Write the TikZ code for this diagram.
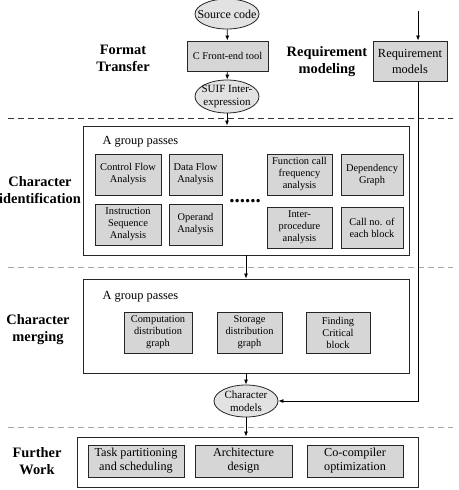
\documentclass[tikz,border=0pt]{standalone}
\usepackage{fontspec}
\setmainfont{Liberation Serif}
\usetikzlibrary{shapes.geometric,arrows.meta}

\definecolor{boxgray}{HTML}{D6D6D6}
\definecolor{ellgray}{HTML}{E2E2E2}

\tikzset{
  pass/.style={draw=black!85, line width=0.9pt, fill=boxgray, align=center,
    inner sep=1pt, font=\fontsize{10.4}{12}\selectfont},
  bigpass/.style={pass, font=\fontsize{12.2}{14}\selectfont},
  ell/.style={ellipse, draw=black!85, line width=0.8pt, fill=ellgray, align=center,
    inner xsep=-8pt, inner ysep=-3pt, minimum width=64, minimum height=32,
    font=\fontsize{11}{12.5}\selectfont},
  group/.style={draw=black!85, line width=0.9pt, fill=white},
  grouplabel/.style={anchor=west, font=\fontsize{12.4}{14}\selectfont},
  stage/.style={align=center, font=\fontsize{14.4}{17}\selectfont\bfseries},
  sep/.style={dash pattern=on 6pt off 4pt, line width=0.9pt},
  arr/.style={-{Latex[length=5pt,width=4pt]}, line width=0.8pt}
}

\begin{document}
\begin{tikzpicture}[x=1pt,y=-1pt]
\useasboundingbox (0,0) rectangle (458,490);

% Separators between stages
\draw[sep, black!80] (8,118) -- (453,118);
\draw[sep, gray!70] (8,267) -- (453,267);
\draw[sep, gray!70] (8,427) -- (453,427);

% Stage names
\node[stage] (fmt) at (123,58) {Format\\Transfer};
\node[stage] (reqm) at (327,62) {Requirement\\modeling};
\node[stage] (ident) at (40,190) {Character\\identification};
\node[stage] (merge) at (38,330) {Character\\merging};
\node[stage] (further) at (37,461) {Further\\Work};

% Format transfer
\node[ell, minimum height=30, font=\fontsize{12}{13}\selectfont] (src) at (227,14) {Source code};
\node[pass, minimum width=81, minimum height=30] (front) at (227.5,56) {C Front-end tool};
\node[ell, minimum height=33] (suif) at (227,96.5) {SUIF Inter-\\expression};

% Requirement modeling
\node[pass, minimum width=74, minimum height=40, font=\fontsize{12.4}{16}\selectfont] (req) at (410,61) {Requirement\\models};
\coordinate (reqin) at (418,11);

% Character identification
\node[group, minimum width=326, minimum height=129] (ibox) at (246,190.5) {};
\node[grouplabel] (igrp) at (99,142) {A group passes};
\node[pass, minimum width=66, minimum height=41] (cfa) at (128,174.5) {Control Flow\\Analysis};
\node[pass, minimum width=53, minimum height=41] (dfa) at (195.5,174.5) {Data Flow\\Analysis};
\node[pass, minimum width=65, minimum height=41] (fcf) at (299.5,174.5) {Function call\\frequency\\analysis};
\node[pass, minimum width=62, minimum height=41] (dep) at (372,174.5) {Dependency\\Graph};
\node[pass, minimum width=66, minimum height=41] (isa) at (128,224.5) {Instruction\\Sequence\\Analysis};
\node[pass, minimum width=53, minimum height=41] (opa) at (195.5,224.5) {Operand\\Analysis};
\node[pass, minimum width=65, minimum height=41] (ipa) at (299.5,227.5) {Inter-\\procedure\\analysis};
\node[pass, minimum width=62, minimum height=41] (cnb) at (372,227.5) {Call no. of\\each block};
\node[anchor=base, font=\fontsize{21}{21}\selectfont\bfseries] (dots) at (245,202) {......};

% Character merging
\node[group, minimum width=326, minimum height=94] (mbox) at (246,326) {};
\node[grouplabel] (mgrp) at (99,297) {A group passes};
\node[pass, minimum width=68, minimum height=41] (cdg) at (158,332.5) {Computation\\distribution\\graph};
\node[pass, minimum width=65, minimum height=41] (sdg) at (249.5,332.5) {Storage\\distribution\\graph};
\node[pass, minimum width=64, minimum height=41] (fcb) at (338,332.5) {Finding\\Critical\\block};
\node[ell] (cm) at (246,401) {Character\\models};

% Further work
\node[group, minimum width=341, minimum height=50] (wbox) at (247.5,462) {};
\node[bigpass, minimum width=96, minimum height=32] (tps) at (136,461) {Task partitioning\\and scheduling};
\node[bigpass, minimum width=97, minimum height=32] (arch) at (243.5,461) {Architecture\\design};
\node[bigpass, minimum width=96, minimum height=32] (cco) at (355,461) {Co-compiler\\optimization};

% Flow
\draw[arr] (src) -- (front);
\draw[arr] (front) -- (suif);
\draw[arr] (suif.south) -- (suif.south |- ibox.north);
\draw[arr] (ibox.south) -- (mbox.north);
\draw[arr] (mbox.south) -- (cm.north);
\draw[arr] (cm.south) -- (cm.south |- wbox.north);
\draw[arr] (reqin) -- (reqin |- req.north);
\draw[arr] (reqin |- req.south) |- (cm.east);

\end{tikzpicture}
\end{document}
